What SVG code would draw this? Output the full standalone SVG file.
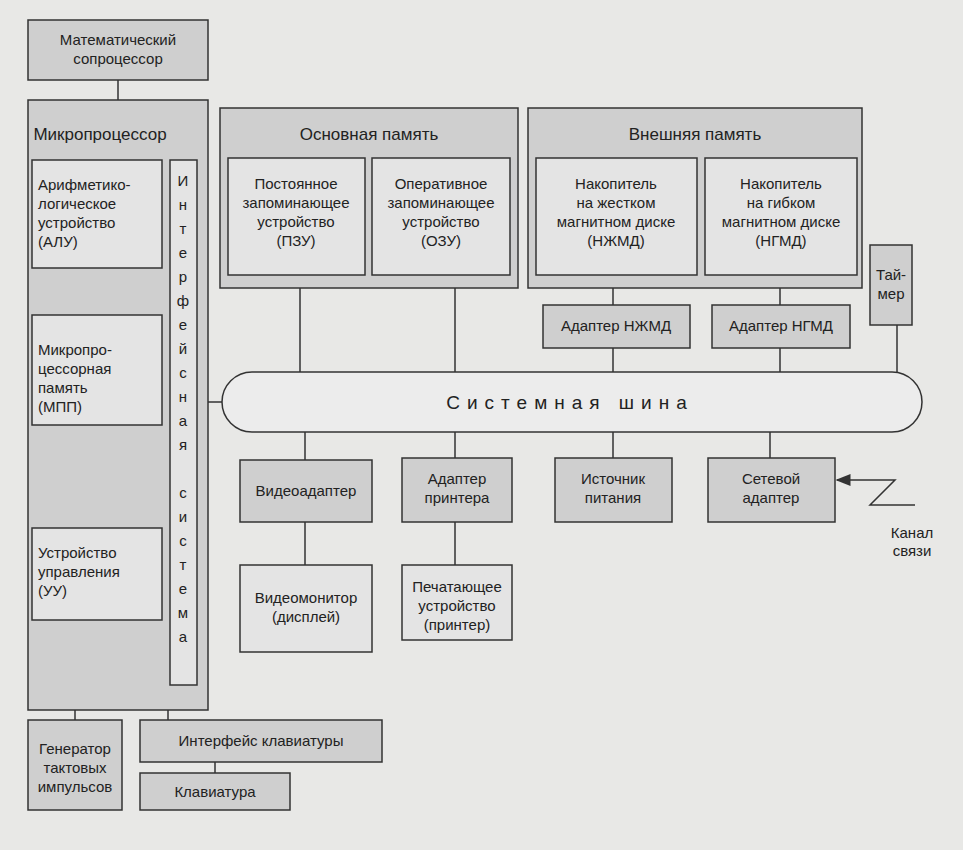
<svg xmlns="http://www.w3.org/2000/svg" width="963" height="850" viewBox="0 0 963 850">
<style>
text{font-family:"Liberation Sans",Arial,sans-serif;font-size:15px;fill:#222;text-anchor:middle}
.o{fill:#cfcfcf;stroke:#333;stroke-width:1.5}
.i{fill:#e4e4e4;stroke:#333;stroke-width:1.5}
.t{font-size:17px}
line,polyline{stroke:#333;stroke-width:1.5;fill:none}
</style>
<defs><marker id="a" markerWidth="10" markerHeight="8" refX="9" refY="4" orient="auto"><path d="M0,0L10,4L0,8z" fill="#333"/></marker></defs>
<rect width="963" height="850" fill="#e8e8e6"/>
<g id="connectors">
<line x1="118" y1="80" x2="118" y2="100"/>
<line x1="300" y1="275" x2="300" y2="372"/>
<line x1="455" y1="275" x2="455" y2="372"/>
<line x1="613" y1="275" x2="613" y2="305"/><line x1="613" y1="348" x2="613" y2="372"/>
<line x1="780" y1="275" x2="780" y2="305"/><line x1="780" y1="348" x2="780" y2="372"/>
<line x1="897" y1="325" x2="897" y2="372"/>
<line x1="305" y1="432" x2="305" y2="460"/><line x1="455" y1="432" x2="455" y2="458"/>
<line x1="613" y1="432" x2="613" y2="458"/><line x1="770" y1="432" x2="770" y2="458"/>
<line x1="305" y1="522" x2="305" y2="565"/><line x1="455" y1="522" x2="455" y2="565"/>
<line x1="197" y1="402" x2="222" y2="402"/>
<polyline points="915,505 870,505 895,480 837,480" marker-end="url(#a)"/>
<line x1="75" y1="710" x2="75" y2="720"/><line x1="168" y1="710" x2="168" y2="720"/>
<line x1="215" y1="762" x2="215" y2="773"/>
</g>
<g id="coproc"><rect class="o" x="28" y="20" width="180" height="60"/><text x="118" y="45">Математический</text><text x="118" y="64">сопроцессор</text></g>
<g id="micro"><rect class="o" x="28" y="100" width="180" height="610"/><text class="t" x="100" y="140">Микропроцессор</text></g>
<g id="alu"><rect class="i" x="32" y="160" width="130" height="108"/><text x="38" y="190" style="text-anchor:start">Арифметико-</text><text x="38" y="209" style="text-anchor:start">логическое</text><text x="38" y="228" style="text-anchor:start">устройство</text><text x="38" y="247" style="text-anchor:start">(АЛУ)</text></g>
<g id="mpp"><rect class="i" x="32" y="315" width="130" height="110"/><text x="38" y="355" style="text-anchor:start">Микропро-</text><text x="38" y="374" style="text-anchor:start">цессорная</text><text x="38" y="393" style="text-anchor:start">память</text><text x="38" y="412" style="text-anchor:start">(МПП)</text></g>
<g id="uu"><rect class="i" x="32" y="528" width="130" height="92"/><text x="38" y="558" style="text-anchor:start">Устройство</text><text x="38" y="577" style="text-anchor:start">управления</text><text x="38" y="596" style="text-anchor:start">(УУ)</text></g>
<g id="iface"><rect class="i" x="170" y="160" width="27" height="525"/>
<text x="183" y="186">И</text><text x="183" y="210">н</text><text x="183" y="234">т</text><text x="183" y="258">е</text><text x="183" y="282">р</text><text x="183" y="306">ф</text><text x="183" y="330">е</text><text x="183" y="354">й</text><text x="183" y="378">с</text><text x="183" y="402">н</text><text x="183" y="426">а</text><text x="183" y="450">я</text><text x="183" y="498">с</text><text x="183" y="522">и</text><text x="183" y="546">с</text><text x="183" y="570">т</text><text x="183" y="594">е</text><text x="183" y="618">м</text><text x="183" y="642">а</text></g>
<g id="mainmem"><rect class="o" x="220" y="108" width="298" height="180"/><text class="t" x="369" y="140">Основная память</text></g>
<g id="rom"><rect class="i" x="228" y="158" width="137" height="117"/><text x="296" y="189">Постоянное</text><text x="296" y="208">запоминающее</text><text x="296" y="227">устройство</text><text x="296" y="246">(ПЗУ)</text></g>
<g id="ram"><rect class="i" x="372" y="158" width="138" height="117"/><text x="441" y="189">Оперативное</text><text x="441" y="208">запоминающее</text><text x="441" y="227">устройство</text><text x="441" y="246">(ОЗУ)</text></g>
<g id="extmem"><rect class="o" x="528" y="108" width="334" height="180"/><text class="t" x="695" y="140">Внешняя память</text></g>
<g id="hdd"><rect class="i" x="536" y="158" width="161" height="117"/><text x="616" y="189">Накопитель</text><text x="616" y="208">на жестком</text><text x="616" y="227">магнитном диске</text><text x="616" y="246">(НЖМД)</text></g>
<g id="fdd"><rect class="i" x="705" y="158" width="152" height="117"/><text x="781" y="189">Накопитель</text><text x="781" y="208">на гибком</text><text x="781" y="227">магнитном диске</text><text x="781" y="246">(НГМД)</text></g>
<g id="ahdd"><rect class="o" x="543" y="305" width="147" height="43"/><text x="616" y="331">Адаптер НЖМД</text></g>
<g id="afdd"><rect class="o" x="712" y="305" width="138" height="43"/><text x="781" y="331">Адаптер НГМД</text></g>
<g id="timer"><rect class="o" x="870" y="245" width="42" height="80"/><text x="891" y="280">Тай-</text><text x="891" y="299">мер</text></g>
<g id="bus"><rect x="222" y="372" width="700" height="60" rx="30" fill="#ececec" stroke="#333" stroke-width="1.5"/><text x="570" y="409" style="letter-spacing:7px;font-size:19px">Системная шина</text></g>
<g id="video"><rect class="o" x="240" y="460" width="132" height="62"/><text x="306" y="496">Видеоадаптер</text></g>
<g id="aprn"><rect class="o" x="402" y="458" width="110" height="64"/><text x="457" y="484">Адаптер</text><text x="457" y="503">принтера</text></g>
<g id="psu"><rect class="o" x="555" y="458" width="117" height="64"/><text x="613" y="484">Источник</text><text x="613" y="503">питания</text></g>
<g id="net"><rect class="o" x="708" y="458" width="127" height="64"/><text x="771" y="484">Сетевой</text><text x="771" y="503">адаптер</text></g>
<g id="chan"><text x="912" y="538">Канал</text><text x="912" y="556">связи</text></g>
<g id="monitor"><rect class="i" x="240" y="565" width="132" height="87"/><text x="306" y="603">Видеомонитор</text><text x="306" y="622">(дисплей)</text></g>
<g id="printer"><rect class="i" x="402" y="565" width="110" height="75"/><text x="457" y="592">Печатающее</text><text x="457" y="611">устройство</text><text x="457" y="630">(принтер)</text></g>
<g id="gen"><rect class="o" x="28" y="720" width="94" height="90"/><text x="75" y="754">Генератор</text><text x="75" y="773">тактовых</text><text x="75" y="792">импульсов</text></g>
<g id="kbif"><rect class="o" x="140" y="720" width="242" height="42"/><text x="261" y="746">Интерфейс клавиатуры</text></g>
<g id="kb"><rect class="o" x="140" y="773" width="150" height="37"/><text x="215" y="797">Клавиатура</text></g>
</svg>
